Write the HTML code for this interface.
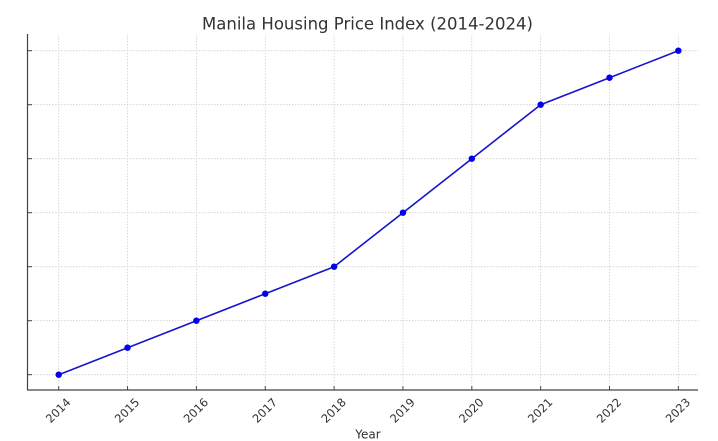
<!DOCTYPE html>
<html>
<head>
<meta charset="utf-8">
<style>
  html, body { margin: 0; padding: 0; background: #ffffff; }
  svg { display: block; }
  text { font-family: "DejaVu Sans", "Liberation Sans", sans-serif; fill: #333333; }
</style>
</head>
<body>
<svg width="718" height="441" viewBox="0 0 718 441" xmlns="http://www.w3.org/2000/svg">
  <rect x="0" y="0" width="718" height="441" fill="#ffffff"/>

  <!-- Title -->
  <text x="367.5" y="29.5" font-size="16.5" text-anchor="middle" textLength="331" lengthAdjust="spacingAndGlyphs">Manila Housing Price Index (2014-2024)</text>

  <!-- Grid: vertical -->
  <g stroke="#cfcfcf" stroke-width="0.8" stroke-dasharray="1.5,1.5" fill="none">
    <line x1="58.7" y1="35" x2="58.7" y2="390"/>
    <line x1="127.55" y1="35" x2="127.55" y2="390"/>
    <line x1="196.4" y1="35" x2="196.4" y2="390"/>
    <line x1="265.25" y1="35" x2="265.25" y2="390"/>
    <line x1="334.1" y1="35" x2="334.1" y2="390"/>
    <line x1="402.95" y1="35" x2="402.95" y2="390"/>
    <line x1="471.8" y1="35" x2="471.8" y2="390"/>
    <line x1="540.65" y1="35" x2="540.65" y2="390"/>
    <line x1="609.5" y1="35" x2="609.5" y2="390"/>
    <line x1="678.35" y1="35" x2="678.35" y2="390"/>
  </g>
  <!-- Grid: horizontal -->
  <g stroke="#cfcfcf" stroke-width="0.8" stroke-dasharray="1.5,1.5" fill="none">
    <line x1="28" y1="50.7" x2="698" y2="50.7"/>
    <line x1="28" y1="104.7" x2="698" y2="104.7"/>
    <line x1="28" y1="158.7" x2="698" y2="158.7"/>
    <line x1="28" y1="212.7" x2="698" y2="212.7"/>
    <line x1="28" y1="266.7" x2="698" y2="266.7"/>
    <line x1="28" y1="320.7" x2="698" y2="320.7"/>
    <line x1="28" y1="374.7" x2="698" y2="374.7"/>
  </g>

  <!-- Spines -->
  <g stroke="#444444" stroke-width="1.2" fill="none">
    <line x1="27.5" y1="34" x2="27.5" y2="390"/>
    <line x1="27" y1="390" x2="698" y2="390"/>
  </g>

  <!-- Y ticks (inward) -->
  <g stroke="#444444" stroke-width="1" fill="none">
    <line x1="27.5" y1="50.7" x2="32" y2="50.7"/>
    <line x1="27.5" y1="104.7" x2="32" y2="104.7"/>
    <line x1="27.5" y1="158.7" x2="32" y2="158.7"/>
    <line x1="27.5" y1="212.7" x2="32" y2="212.7"/>
    <line x1="27.5" y1="266.7" x2="32" y2="266.7"/>
    <line x1="27.5" y1="320.7" x2="32" y2="320.7"/>
    <line x1="27.5" y1="374.7" x2="32" y2="374.7"/>
  </g>
  <!-- X ticks (inward) -->
  <g stroke="#444444" stroke-width="1" fill="none">
    <line x1="58.7" y1="390" x2="58.7" y2="386"/>
    <line x1="127.55" y1="390" x2="127.55" y2="386"/>
    <line x1="196.4" y1="390" x2="196.4" y2="386"/>
    <line x1="265.25" y1="390" x2="265.25" y2="386"/>
    <line x1="334.1" y1="390" x2="334.1" y2="386"/>
    <line x1="402.95" y1="390" x2="402.95" y2="386"/>
    <line x1="471.8" y1="390" x2="471.8" y2="386"/>
    <line x1="540.65" y1="390" x2="540.65" y2="386"/>
    <line x1="609.5" y1="390" x2="609.5" y2="386"/>
    <line x1="678.35" y1="390" x2="678.35" y2="386"/>
  </g>

  <!-- X tick labels rotated 45 -->
  <g font-size="11.5" text-anchor="middle">
    <text transform="translate(58.2,410.5) rotate(-45)" dominant-baseline="central">2014</text>
    <text transform="translate(127.05,410.5) rotate(-45)" dominant-baseline="central">2015</text>
    <text transform="translate(195.9,410.5) rotate(-45)" dominant-baseline="central">2016</text>
    <text transform="translate(264.75,410.5) rotate(-45)" dominant-baseline="central">2017</text>
    <text transform="translate(333.6,410.5) rotate(-45)" dominant-baseline="central">2018</text>
    <text transform="translate(402.45,410.5) rotate(-45)" dominant-baseline="central">2019</text>
    <text transform="translate(471.3,410.5) rotate(-45)" dominant-baseline="central">2020</text>
    <text transform="translate(540.15,410.5) rotate(-45)" dominant-baseline="central">2021</text>
    <text transform="translate(609,410.5) rotate(-45)" dominant-baseline="central">2022</text>
    <text transform="translate(677.85,410.5) rotate(-45)" dominant-baseline="central">2023</text>
  </g>

  <!-- X axis label -->
  <text x="368" y="438.5" font-size="12" text-anchor="middle">Year</text>

  <!-- Series -->
  <polyline fill="none" stroke="#1414cc" stroke-width="1.6" stroke-linejoin="round"
    points="58.7,374.7 127.55,347.7 196.4,320.7 265.25,293.7 334.1,266.7 402.95,212.7 471.8,158.7 540.65,104.7 609.5,77.7 678.35,50.7"/>
  <g fill="#0000ee">
    <circle cx="58.7" cy="374.7" r="3.2"/>
    <circle cx="127.55" cy="347.7" r="3.2"/>
    <circle cx="196.4" cy="320.7" r="3.2"/>
    <circle cx="265.25" cy="293.7" r="3.2"/>
    <circle cx="334.1" cy="266.7" r="3.2"/>
    <circle cx="402.95" cy="212.7" r="3.2"/>
    <circle cx="471.8" cy="158.7" r="3.2"/>
    <circle cx="540.65" cy="104.7" r="3.2"/>
    <circle cx="609.5" cy="77.7" r="3.2"/>
    <circle cx="678.35" cy="50.7" r="3.2"/>
  </g>
</svg>
</body>
</html>
